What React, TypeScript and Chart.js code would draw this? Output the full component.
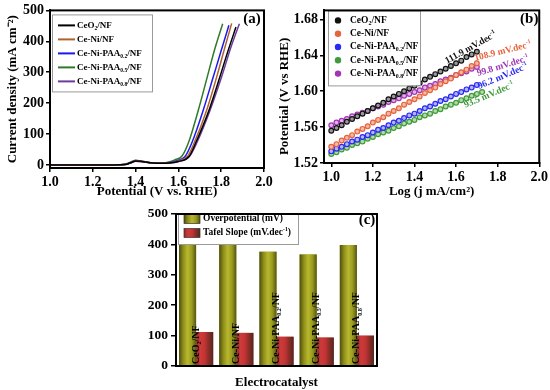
import React, { useEffect, useRef } from "react";
import { Chart, registerables } from "chart.js";

Chart.register(...registerables);

const SERIF = "'Liberation Serif', 'Times New Roman', Times, serif";

// ---------------- Panel (a): polarization (LSV) curves ----------------
const seriesNames = [
  "CeO_{2}/NF",
  "Ce-Ni/NF",
  "Ce-Ni-PAA_{0.2}/NF",
  "Ce-Ni-PAA_{0.5}/NF",
  "Ce-Ni-PAA_{0.8}/NF",
];
const lsvColors = ["#000000", "#b0622e", "#1a1aee", "#2f7a2a", "#6b3c9c"];

const lsvPotCeO2 = [1.0, 1.3, 1.35, 1.38, 1.4, 1.43, 1.47, 1.52, 1.56, 1.6, 1.65, 1.68, 1.743, 1.794, 1.83, 1.869];
const lsvCurCeO2 = [0, 0, 1, 8, 13, 11, 7, 5, 6, 11, 27, 70, 177, 285, 365, 446];
const lsvPotCeNi = [1.0, 1.3, 1.35, 1.38, 1.4, 1.43, 1.47, 1.52, 1.56, 1.6, 1.642, 1.673, 1.732, 1.779, 1.815, 1.849];
const lsvCurCeNi = [0, 0, 1, 8, 14, 12, 7, 5, 7, 13, 27, 70, 177, 285, 375, 458];
const lsvPotPAA02 = [1.0, 1.3, 1.35, 1.38, 1.4, 1.43, 1.47, 1.52, 1.56, 1.6, 1.631, 1.662, 1.716, 1.763, 1.8, 1.836];
const lsvCurPAA02 = [0, 0, 1, 8, 13, 11, 7, 5, 8, 15, 27, 70, 177, 285, 370, 452];
const lsvPotPAA05 = [1.0, 1.3, 1.35, 1.38, 1.4, 1.43, 1.47, 1.52, 1.56, 1.585, 1.615, 1.646, 1.693, 1.735, 1.77, 1.807];
const lsvCurPAA05 = [0, 0, 2, 10, 15, 12, 7, 6, 10, 17, 27, 70, 177, 285, 375, 457];
const lsvPotPAA08 = [1.0, 1.3, 1.35, 1.38, 1.4, 1.43, 1.47, 1.52, 1.56, 1.6, 1.651, 1.685, 1.748, 1.802, 1.845, 1.885];
const lsvCurPAA08 = [0, 0, 1, 7, 12, 10, 6, 5, 6, 11, 27, 70, 177, 285, 380, 457];

const lsvXTicks = [1.0, 1.2, 1.4, 1.6, 1.8, 2.0];
const lsvYTicks = [0, 100, 200, 300, 400, 500];

// ---------------- Panel (b): Tafel plots ----------------
const tafelLogJ = [
  1.0, 1.025, 1.05, 1.075, 1.1, 1.125, 1.15, 1.175, 1.2, 1.225, 1.25, 1.275, 1.3, 1.325, 1.35,
  1.375, 1.4, 1.425, 1.45, 1.475, 1.5, 1.525, 1.55, 1.575, 1.6, 1.625, 1.65, 1.675, 1.7,
];
const tafelLogJPAA05 = [
  1.0, 1.025, 1.05, 1.075, 1.1, 1.125, 1.15, 1.175, 1.2, 1.225, 1.25, 1.275, 1.3, 1.325, 1.35,
  1.375, 1.4, 1.425, 1.45, 1.475, 1.5, 1.525, 1.55, 1.575, 1.6, 1.625, 1.65, 1.675, 1.7, 1.725,
];
const tafelCeO2 = [
  1.556, 1.559, 1.562, 1.566, 1.569, 1.572, 1.575, 1.578, 1.581, 1.584, 1.587, 1.591, 1.594, 1.597, 1.6,
  1.603, 1.606, 1.609, 1.613, 1.616, 1.619, 1.622, 1.625, 1.628, 1.631, 1.634, 1.638, 1.641, 1.644,
];
const tafelCeNi = [
  1.538, 1.541, 1.545, 1.548, 1.551, 1.555, 1.558, 1.561, 1.565, 1.568, 1.571, 1.575, 1.578, 1.581, 1.585,
  1.588, 1.591, 1.594, 1.598, 1.601, 1.604, 1.608, 1.611, 1.614, 1.618, 1.621, 1.624, 1.628, 1.631,
];
const tafelPAA02 = [
  1.533, 1.536, 1.538, 1.541, 1.544, 1.546, 1.549, 1.551, 1.554, 1.557, 1.559, 1.562, 1.565, 1.567, 1.57,
  1.573, 1.575, 1.578, 1.581, 1.583, 1.586, 1.589, 1.591, 1.594, 1.597, 1.599, 1.602, 1.604, 1.607,
];
const tafelPAA05 = [
  1.53, 1.532, 1.535, 1.537, 1.54, 1.542, 1.544, 1.547, 1.549, 1.552, 1.554, 1.556, 1.559, 1.561, 1.564,
  1.566, 1.568, 1.571, 1.573, 1.575, 1.578, 1.58, 1.583, 1.585, 1.587, 1.59, 1.592, 1.595, 1.597, 1.599,
];
const tafelPAA08 = [
  1.562, 1.565, 1.567, 1.569, 1.572, 1.574, 1.576, 1.578, 1.581, 1.583, 1.585, 1.588, 1.59, 1.592, 1.595,
  1.597, 1.599, 1.601, 1.604, 1.606, 1.608, 1.611, 1.613, 1.615, 1.618, 1.62, 1.622, 1.625, 1.627,
];
const tafelColors = ["#111111", "#e5643f", "#2a2af0", "#3f9a3a", "#a035b5"];
const tafelTints = ["#9a9a9a", "#f7b8a2", "#b5b5ff", "#b4dcaa", "#e2b2ea"];
const tafelXTicks = [1.0, 1.2, 1.4, 1.6, 1.8, 2.0];
const tafelYTicks = [1.52, 1.56, 1.6, 1.64, 1.68];

// ---------------- Panel (c): bar comparison ----------------
const overpotential = [413, 400, 376, 367, 398];
const tafelSlope = [111.9, 108.9, 96.2, 93.5, 99.8];
const barSeriesNames = ["Overpotential (mV)", "Tafel Slope (mV.dec^{-1})"];
const barYTicks = [0, 100, 200, 300, 400, 500];

// ---------------- rich text helpers ----------------
function parseRich(s: string) {
  const out: { t: string; k: number }[] = [];
  const re = /([_^])\{([^}]*)\}/g;
  let last = 0;
  let m: RegExpExecArray | null;
  while ((m = re.exec(s))) {
    if (m.index > last) out.push({ t: s.slice(last, m.index), k: 0 });
    out.push({ t: m[2], k: m[1] === "_" ? 1 : 2 });
    last = re.lastIndex;
  }
  if (last < s.length) out.push({ t: s.slice(last), k: 0 });
  return out;
}

function drawRich(ctx: CanvasRenderingContext2D, s: string, x: number, y: number, size: number, color: string, align: string) {
  const segs = parseRich(s);
  let w = 0;
  for (const g of segs) {
    ctx.font = `bold ${g.k ? size * 0.62 : size}px ${SERIF}`;
    w += ctx.measureText(g.t).width;
  }
  let cx = align === "center" ? x - w / 2 : align === "right" ? x - w : x;
  ctx.fillStyle = color;
  ctx.textAlign = "left";
  ctx.textBaseline = "middle";
  for (const g of segs) {
    const fs = g.k ? size * 0.62 : size;
    ctx.font = `bold ${fs}px ${SERIF}`;
    const dy = g.k === 1 ? size * 0.3 : g.k === 2 ? -size * 0.33 : 0;
    ctx.fillText(g.t, cx, y + dy);
    cx += ctx.measureText(g.t).width;
  }
}

// ---------------- shared plugins / options ----------------
const framePlugin = {
  id: "frame",
  afterDraw(chart: any) {
    const { ctx, chartArea: ca } = chart;
    ctx.save();
    ctx.strokeStyle = "#000";
    ctx.lineWidth = 2;
    ctx.strokeRect(ca.left, ca.top, ca.right - ca.left, ca.bottom - ca.top);
    ctx.restore();
  },
};

function panelLabel(text: string, dx: number, dy: number) {
  return {
    id: "panelLabel",
    afterDraw(chart: any) {
      const { ctx, chartArea: ca } = chart;
      ctx.save();
      ctx.font = `bold 15px ${SERIF}`;
      ctx.fillStyle = "#000";
      ctx.textAlign = "center";
      ctx.textBaseline = "middle";
      ctx.fillText(text, ca.right + dx, ca.top + dy);
      ctx.restore();
    },
  };
}

function legendPlugin(cfg: any) {
  return {
    id: "customLegend",
    afterDatasetsDraw(chart: any) {
      const { ctx, chartArea: ca } = chart;
      const bx = ca.left + cfg.dx;
      const by = ca.top + cfg.dy;
      ctx.save();
      ctx.fillStyle = "#ffffff";
      ctx.fillRect(bx, by, cfg.w, cfg.h);
      ctx.strokeStyle = "#9a9a9a";
      ctx.lineWidth = 1;
      ctx.strokeRect(bx + 0.5, by + 0.5, cfg.w, cfg.h);
      chart.data.datasets.forEach((ds: any, i: number) => {
        const y = by + cfg.first + i * cfg.gap;
        if (cfg.kind === "line") {
          ctx.strokeStyle = ds.borderColor;
          ctx.lineWidth = 2;
          ctx.beginPath();
          ctx.moveTo(bx + 6, y);
          ctx.lineTo(bx + 23, y);
          ctx.stroke();
        } else if (cfg.kind === "dot") {
          ctx.fillStyle = ds.pointBorderColor;
          ctx.beginPath();
          ctx.arc(bx + 10, y, 3.2, 0, Math.PI * 2);
          ctx.fill();
        } else {
          const g = ctx.createLinearGradient(bx + 6, 0, bx + 22, 0);
          cfg.grads[i].forEach((c: string, k: number, arr: string[]) => g.addColorStop(k / (arr.length - 1), c));
          ctx.fillStyle = g;
          ctx.fillRect(bx + 6, y - 4.5, 16, 9);
          ctx.strokeStyle = "#333";
          ctx.lineWidth = 0.7;
          ctx.strokeRect(bx + 6, y - 4.5, 16, 9);
        }
        drawRich(ctx, ds.label, bx + cfg.textX, y, cfg.font, "#000", "left");
      });
      ctx.restore();
    },
  };
}

function axisBase(tickSize: number) {
  return {
    grid: { display: true, drawOnChartArea: false, drawTicks: true, tickLength: 4, color: "#000", lineWidth: 1.5 },
    border: { display: true, color: "#000", width: 2 },
    ticks: { color: "#000", font: { family: SERIF, size: tickSize, weight: "bold" }, padding: 2, maxRotation: 0, autoSkip: false },
  };
}

function titleOpt(text: string, padding: any) {
  return { display: true, text, color: "#000", font: { family: SERIF, size: 13, weight: "bold" }, padding };
}

// ---------------- chart configs ----------------
function makeLsv() {
  const pots = [lsvPotCeO2, lsvPotCeNi, lsvPotPAA02, lsvPotPAA05, lsvPotPAA08];
  const curs = [lsvCurCeO2, lsvCurCeNi, lsvCurPAA02, lsvCurPAA05, lsvCurPAA08];
  return {
    type: "line",
    data: {
      datasets: pots.map((p, i) => ({
        label: seriesNames[i],
        data: p.map((v, j) => ({ x: v, y: curs[i][j] })),
        borderColor: lsvColors[i],
        borderWidth: 1.5,
        pointRadius: 0,
        cubicInterpolationMode: "monotone",
        fill: false,
      })),
    },
    options: {
      responsive: false,
      animation: false,
      layout: { padding: { top: 9, right: 11, left: 0, bottom: 0 } },
      plugins: { legend: { display: false }, tooltip: { enabled: false } },
      scales: {
        x: {
          type: "linear",
          min: 1.0,
          max: 2.0,
          ...axisBase(14),
          ticks: { ...axisBase(14).ticks, callback: (v: number) => v.toFixed(1) },
          afterBuildTicks: (s: any) => { s.ticks = lsvXTicks.map((v) => ({ value: v })); },
          afterFit: (s: any) => { s.height = 32; },
          title: titleOpt("Potential (V vs. RHE)", { top: 0, bottom: 0.5 }),
        },
        y: {
          type: "linear",
          min: -10,
          max: 500,
          ...axisBase(14),
          ticks: { ...axisBase(14).ticks, callback: (v: number) => String(v) },
          afterBuildTicks: (s: any) => { s.ticks = lsvYTicks.map((v) => ({ value: v })); },
          afterFit: (s: any) => { s.width = 50; },
          title: titleOpt("Current density (mA cm\u207B\u00B2)", { top: 4.5, bottom: 0 }),
        },
      },
    },
    plugins: [
      legendPlugin({ kind: "line", dx: 2, dy: 4, w: 100, h: 77, first: 11, gap: 14, textX: 25, font: 9 }),
      framePlugin,
      panelLabel("(a)", -12, 9),
    ],
  };
}

const slopeLabelPlacement = [
  { dx: -6, dy: -4, a: -29 },
  { dx: 26, dy: -12, a: -14 },
  { dx: 26, dy: -8.5, a: -23 },
  { dx: 7, dy: 3, a: -23 },
  { dx: 26, dy: -1, a: -17 },
];

const slopeLabelPlugin = {
  id: "slopeLabels",
  afterDatasetsDraw(chart: any) {
    const { ctx } = chart;
    chart.data.datasets.forEach((ds: any, i: number) => {
      const meta = chart.getDatasetMeta(i);
      const last = meta.data[meta.data.length - 1];
      const p = slopeLabelPlacement[i];
      ctx.save();
      ctx.translate(last.x + p.dx, last.y + p.dy);
      ctx.rotate((p.a * Math.PI) / 180);
      drawRich(ctx, `${tafelSlope[i].toFixed(1)} mV.dec^{-1}`, 0, 0, 9.5, tafelColors[i], "center");
      ctx.restore();
    });
  },
};

function makeTafel() {
  const xs = [tafelLogJ, tafelLogJ, tafelLogJ, tafelLogJPAA05, tafelLogJ];
  const ys = [tafelCeO2, tafelCeNi, tafelPAA02, tafelPAA05, tafelPAA08];
  return {
    type: "line",
    data: {
      datasets: ys.map((yy, i) => ({
        label: seriesNames[i],
        data: yy.map((v, j) => ({ x: xs[i][j], y: v })),
        showLine: false,
        borderColor: tafelColors[i],
        pointRadius: 2.4,
        pointBorderWidth: 1.2,
        pointBackgroundColor: tafelTints[i],
        pointBorderColor: tafelColors[i],
        fill: false,
      })),
    },
    options: {
      responsive: false,
      animation: false,
      layout: { padding: { top: 4, right: 10, left: 0, bottom: 0 } },
      plugins: { legend: { display: false }, tooltip: { enabled: false } },
      scales: {
        x: {
          type: "linear",
          min: 0.965,
          max: 2.0,
          ...axisBase(14),
          ticks: { ...axisBase(14).ticks, callback: (v: number) => v.toFixed(1) },
          afterBuildTicks: (s: any) => { s.ticks = tafelXTicks.map((v) => ({ value: v })); },
          afterFit: (s: any) => { s.height = 37; },
          title: titleOpt("Log (j mA/cm\u00B2)", { top: 0, bottom: 0.5 }),
        },
        y: {
          type: "linear",
          min: 1.52,
          max: 1.69,
          ...axisBase(14),
          ticks: { ...axisBase(14).ticks, callback: (v: number) => v.toFixed(2) },
          afterBuildTicks: (s: any) => { s.ticks = tafelYTicks.map((v) => ({ value: v })); },
          afterFit: (s: any) => { s.width = 49; },
          title: titleOpt("Potential (V vs RHE)      ", { top: 1.5, bottom: 0 }),
        },
      },
    },
    plugins: [
      slopeLabelPlugin,
      legendPlugin({ kind: "dot", dx: 4, dy: 0, w: 92, h: 75, first: 10, gap: 13.3, textX: 22, font: 9.5 }),
      framePlugin,
      panelLabel("(b)", -10, 9),
    ],
  };
}

const barGradients = [
  ["#4e4e0c", "#8f8f1c", "#b8b82e", "#9a9a20", "#55550f"],
  ["#8e2c2c", "#cf3a3a", "#c23434", "#8a2c26", "#4e2a20"],
];

const barShadePlugin = {
  id: "barShade",
  afterDatasetDraw(chart: any, args: any) {
    const { ctx } = chart;
    const stops = barGradients[args.index];
    args.meta.data.forEach((el: any) => {
      const { x, y, base, width } = el.getProps(["x", "y", "base", "width"], true);
      const g = ctx.createLinearGradient(x - width / 2, 0, x + width / 2, 0);
      stops.forEach((c: string, k: number) => g.addColorStop(k / (stops.length - 1), c));
      ctx.save();
      ctx.fillStyle = g;
      ctx.fillRect(x - width / 2, y, width, base - y);
      ctx.restore();
    });
  },
};

const categoryTextPlugin = {
  id: "categoryText",
  afterDatasetsDraw(chart: any) {
    const { ctx, chartArea: ca } = chart;
    const xs = chart.scales.x;
    seriesNames.forEach((name, i) => {
      const x = xs.getPixelForValue(i);
      ctx.save();
      ctx.translate(x, ca.bottom - 2);
      ctx.rotate(-Math.PI / 2);
      drawRich(ctx, name, 0, 0, 10, "#000", "left");
      ctx.restore();
    });
  },
};

function makeBars() {
  return {
    type: "bar",
    data: {
      labels: seriesNames,
      datasets: [
        { label: barSeriesNames[0], data: overpotential, backgroundColor: "#a0a020", categoryPercentage: 0.85, barPercentage: 1.0 },
        { label: barSeriesNames[1], data: tafelSlope, backgroundColor: "#c03030", categoryPercentage: 0.85, barPercentage: 1.0 },
      ],
    },
    options: {
      responsive: false,
      animation: false,
      layout: { padding: { top: 14, right: 63, left: 0, bottom: 0 } },
      plugins: { legend: { display: false }, tooltip: { enabled: false } },
      scales: {
        x: {
          grid: { display: false },
          border: { display: true, color: "#000", width: 2 },
          ticks: { display: false },
          afterFit: (s: any) => { s.height = 24; },
          title: titleOpt("Electrocatalyst", { top: 0, bottom: 0 }),
        },
        y: {
          type: "linear",
          min: 0,
          max: 500,
          ...axisBase(13.5),
          grid: { ...axisBase(13.5).grid, tickLength: 5 },
          ticks: { ...axisBase(13.5).ticks, padding: 3, callback: (v: number) => String(v) },
          afterBuildTicks: (s: any) => { s.ticks = barYTicks.map((v) => ({ value: v })); },
          afterFit: (s: any) => { s.width = 66; },
        },
      },
    },
    plugins: [
      barShadePlugin,
      categoryTextPlugin,
      legendPlugin({ kind: "box", grads: barGradients, dx: 2, dy: -1, w: 120, h: 31, first: 6, gap: 14, textX: 25, font: 9.5 }),
      framePlugin,
      panelLabel("(c)", -10, 6),
    ],
  };
}

function ChartCanvas({ left, top, width, height, make }: any) {
  const ref = useRef<HTMLCanvasElement>(null);
  useEffect(() => {
    const chart = new Chart(ref.current as HTMLCanvasElement, make());
    return () => chart.destroy();
  }, []);
  return (
    <canvas
      ref={ref}
      width={width}
      height={height}
      style={{ position: "absolute", left, top, width, height, display: "block" }}
    />
  );
}

export default function App() {
  return (
    <div style={{ position: "fixed", left: 0, top: 0, width: 550, height: 390, background: "#ffffff", overflow: "hidden" }}>
      <ChartCanvas left={0} top={0} width={275} height={200} make={makeLsv} />
      <ChartCanvas left={275} top={0} width={275} height={200} make={makeTafel} />
      <ChartCanvas left={110} top={200} width={330} height={190} make={makeBars} />
    </div>
  );
}
